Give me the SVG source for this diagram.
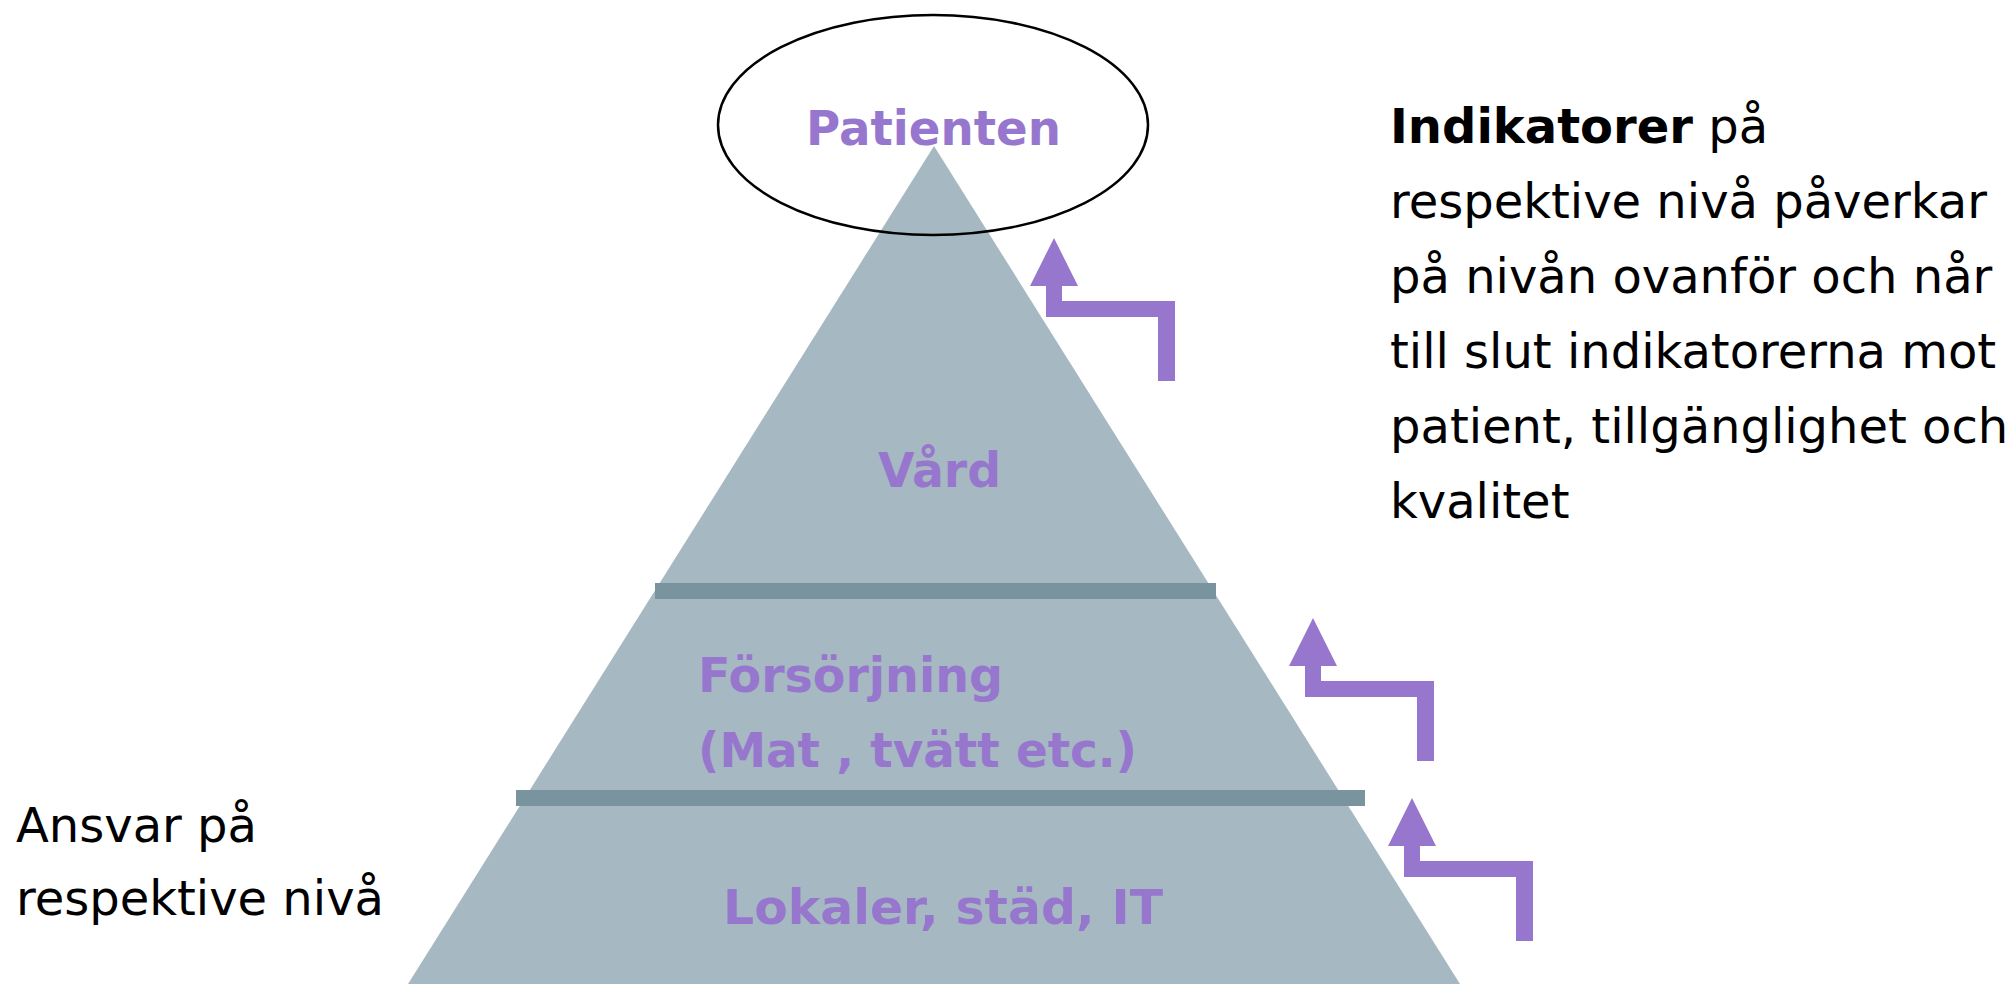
<svg xmlns="http://www.w3.org/2000/svg" width="2010" height="984" viewBox="0 0 2010 984">
<style>
.lvl{font-family:"DejaVu Sans",Verdana,sans-serif;font-weight:bold;font-size:48px;fill:#9777CD}
.txt{font-family:"DejaVu Sans",Verdana,sans-serif;font-size:48px;fill:#000}
.bar{fill:#7A949F}
.arrow{fill:#9777CD}
</style>
<defs>
<polygon id="stepArrow" points="0,0 24,48 8,48 8,63 121,63 121,143 104,143 104,79 -8,79 -8,48 -24,48"/>
</defs>
<rect width="2010" height="984" fill="#fff"/>
<g id="pyramid">
<polygon points="934,146 408,984 1460,984" fill="#A6B8C2"/>
<rect class="bar" x="655" y="583" width="561" height="16"/>
<rect class="bar" x="516" y="790" width="849" height="16"/>
</g>
<g id="patienten">
<ellipse cx="933" cy="125" rx="215" ry="110" fill="none" stroke="#000" stroke-width="2.5"/>
<text class="lvl" x="806" y="145" textLength="255" lengthAdjust="spacingAndGlyphs">Patienten</text>
</g>
<g id="vard">
<text class="lvl" x="878" y="487" textLength="123" lengthAdjust="spacingAndGlyphs">Vård</text>
</g>
<g id="forsorjning">
<text class="lvl" x="698" y="692" textLength="305" lengthAdjust="spacingAndGlyphs">Försörjning</text>
<text class="lvl" x="698" y="767" textLength="439" lengthAdjust="spacingAndGlyphs">(Mat , tvätt etc.)</text>
</g>
<g id="lokaler">
<text class="lvl" x="723" y="924" textLength="440" lengthAdjust="spacingAndGlyphs">Lokaler, städ, IT</text>
</g>
<g id="connectors">
<use href="#stepArrow" class="arrow" x="1054" y="238"/>
<use href="#stepArrow" class="arrow" x="1313" y="618"/>
<use href="#stepArrow" class="arrow" x="1412" y="798"/>
</g>
<g id="indikatorer">
<text class="txt" x="1390" y="143"><tspan font-weight="bold">Indikatorer</tspan> på</text>
<text class="txt" x="1390" y="218">respektive nivå påverkar</text>
<text class="txt" x="1390" y="293">på nivån ovanför och når</text>
<text class="txt" x="1390" y="368">till slut indikatorerna mot</text>
<text class="txt" x="1390" y="443">patient, tillgänglighet och</text>
<text class="txt" x="1390" y="518">kvalitet</text>
</g>
<g id="ansvar">
<text class="txt" x="16" y="842">Ansvar på</text>
<text class="txt" x="16" y="915">respektive nivå</text>
</g>
</svg>
